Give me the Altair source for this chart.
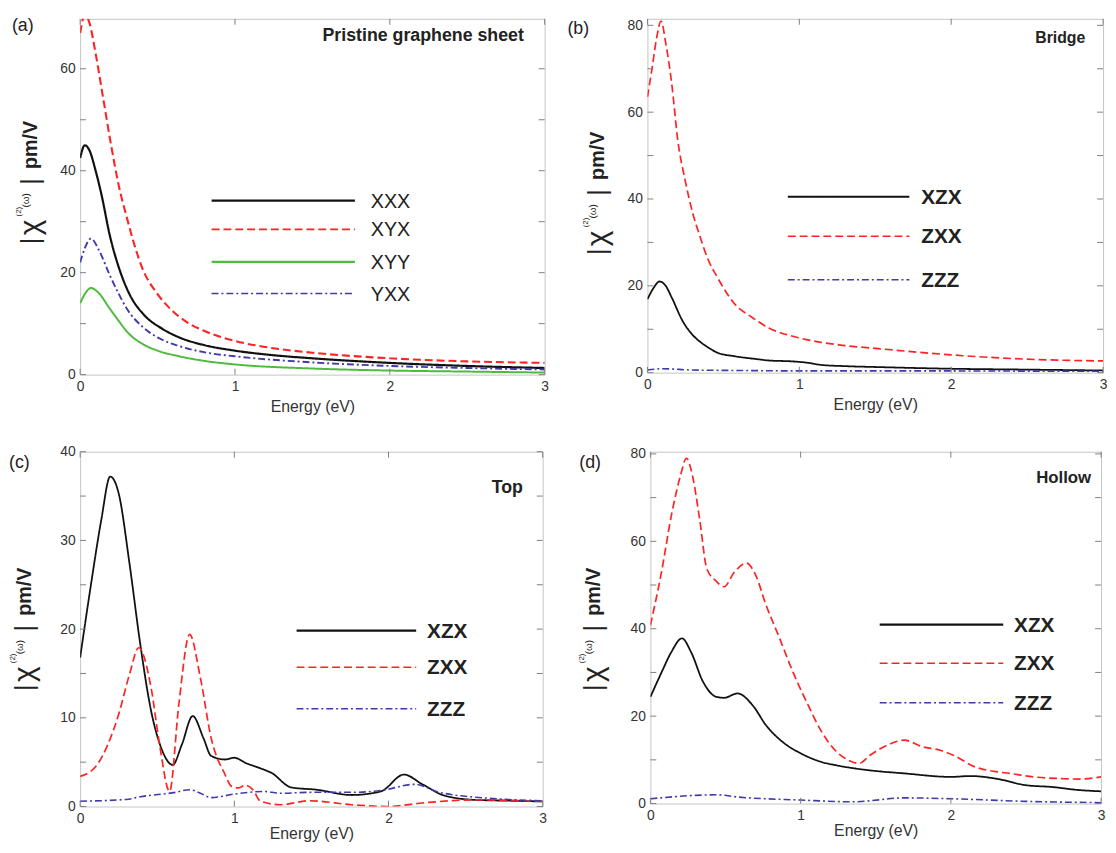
import altair as alt
import pandas as pd

FONT = "Liberation Sans"

# ---------------- data ----------------
# (a) Pristine graphene sheet
A_XXX_X = [0, 0.03, 0.06, 0.1, 0.14, 0.19, 0.25, 0.32, 0.41, 0.53, 0.64, 0.8, 1.0, 1.25, 1.5, 2.0, 2.5, 3.0]
A_XXX_Y = [42.5, 45, 44, 40, 35, 27.5, 21, 15.7, 11.8, 9.0, 7.3, 5.8, 4.7, 3.8, 3.2, 2.3, 1.7, 1.3]
A_XYX_X = [0, 0.03, 0.06, 0.1, 0.15, 0.2, 0.25, 0.3, 0.35, 0.4, 0.5, 0.6, 0.7, 0.8, 1.0, 1.2, 1.5, 2.0, 2.5, 3.0]
A_XYX_Y = [67, 70.5, 69, 63, 54, 45, 37, 31, 25.5, 21, 15.8, 12.4, 10.1, 8.6, 6.6, 5.4, 4.3, 3.2, 2.6, 2.3]
A_XYY_X = [0, 0.03, 0.07, 0.12, 0.19, 0.25, 0.3, 0.41, 0.5, 0.64, 0.8, 1.0, 1.5, 2.0, 2.5, 3.0]
A_XYY_Y = [14, 15.8, 17, 16, 13, 10.5, 8.5, 5.9, 4.7, 3.6, 2.7, 2.0, 1.2, 0.8, 0.6, 0.4]
A_YXX_X = [0, 0.03, 0.07, 0.12, 0.19, 0.25, 0.3, 0.41, 0.5, 0.64, 0.8, 1.0, 1.5, 2.0, 2.5, 3.0]
A_YXX_Y = [22, 24.8, 26.7, 24.5, 19.6, 15.8, 13, 9.2, 7.3, 5.6, 4.4, 3.6, 2.4, 1.7, 1.3, 1.0]

# (b) Bridge
B_XZX_X = [0, 0.04, 0.08, 0.12, 0.16, 0.23, 0.3, 0.34, 0.4, 0.46, 0.57, 0.7, 0.8, 0.95, 1.05, 1.14, 1.3, 1.5, 2.0, 2.5, 3.0]
B_XZX_Y = [16.9, 19.5, 21, 20, 17.3, 12, 8.6, 7.3, 5.8, 4.6, 3.8, 3.2, 2.8, 2.6, 2.3, 1.8, 1.5, 1.3, 0.9, 0.7, 0.5]
B_ZXX_X = [0, 0.03, 0.06, 0.09, 0.12, 0.16, 0.2, 0.25, 0.3, 0.34, 0.4, 0.46, 0.57, 0.69, 0.8, 1.0, 1.26, 1.5, 1.72, 2.0, 2.5, 3.0]
B_ZXX_Y = [63.5, 70, 77, 81, 76, 66.5, 53.5, 44, 36.5, 32, 26, 22, 16, 12.7, 10.3, 8.0, 6.4, 5.6, 4.9, 4.1, 3.1, 2.7]
B_ZZZ_X = [0, 0.1, 0.3, 0.6, 1.0, 1.5, 2.0, 2.5, 3.0]
B_ZZZ_Y = [0.6, 0.9, 0.6, 0.5, 0.4, 0.4, 0.4, 0.35, 0.3]

# (c) Top
C_XZX_X = [0, 0.07, 0.137, 0.195, 0.25, 0.32, 0.39, 0.46, 0.526, 0.6, 0.66, 0.73, 0.8, 0.85, 0.94, 1.0,
           1.075, 1.17, 1.24, 1.37, 1.53, 1.76, 1.95, 2.1, 2.22, 2.36, 2.56, 2.8, 3.0]
C_XZX_Y = [16.8, 25, 32.3, 37.2, 35.3, 27.4, 18.3, 10.8, 6.6, 4.7, 7, 10.2, 7.7, 5.7, 5.3, 5.5,
           4.9, 4.3, 3.8, 2.15, 1.9, 1.3, 1.7, 3.6, 2.5, 1.25, 0.75, 0.65, 0.57]
C_ZXX_X = [0, 0.11, 0.18, 0.25, 0.32, 0.38, 0.46, 0.515, 0.58, 0.64, 0.71, 0.78, 0.85, 0.94, 0.98,
           1.03, 1.07, 1.12, 1.17, 1.3, 1.49, 1.76, 1.99, 2.22, 2.56, 3.0]
C_ZXX_Y = [3.4, 4.7, 7, 10.4, 14.9, 17.9, 13.4, 7, 1.7, 11.5, 19.4, 14.5, 7.7, 3.6, 2.3,
           2.1, 2.4, 1.9, 0.6, 0.2, 0.65, 0.2, 0.0, 0.4, 0.75, 0.57]
C_ZZZ_X = [0, 0.3, 0.39, 0.62, 0.71, 0.78, 0.85, 1.0, 1.19, 1.3, 1.5, 1.76, 1.95, 2.17, 2.33, 2.68, 3.0]
C_ZZZ_Y = [0.6, 0.8, 1.1, 1.6, 1.9, 1.5, 1.0, 1.4, 1.7, 1.5, 1.6, 1.6, 1.8, 2.5, 1.6, 0.9, 0.65]

# (d) Hollow
D_ZXX_X = [0, 0.074, 0.14, 0.2, 0.24, 0.28, 0.33, 0.375, 0.44, 0.49, 0.56, 0.64, 0.7, 0.77, 0.86, 0.95,
           1.05, 1.14, 1.23, 1.32, 1.39, 1.46, 1.58, 1.69, 1.81, 1.93, 2.02, 2.16, 2.3, 2.39, 2.55, 2.74, 2.85, 3.0]
D_ZXX_Y = [40.8, 53, 66, 75, 79, 75, 64.5, 53.8, 50.8, 49.6, 53, 55, 52.3, 45.4, 37.8, 30,
           22.5, 16.4, 12.2, 9.9, 9.2, 11, 13.4, 14.5, 13, 12.2, 11, 8.4, 7.3, 6.9, 6.1, 5.7, 5.6, 6.1]
D_XZX_X = [0, 0.074, 0.14, 0.21, 0.27, 0.35, 0.44, 0.49, 0.58, 0.68, 0.77, 0.88, 1.0, 1.14, 1.23,
           1.46, 1.69, 2.0, 2.13, 2.3, 2.5, 2.67, 2.85, 3.0]
D_XZX_Y = [24.4, 30, 34.7, 37.8, 34.7, 27.9, 24.4, 24.2, 25.2, 22.5, 17.9, 14.1, 11.5, 9.5, 8.8,
           7.6, 6.9, 6.1, 6.3, 5.7, 4.2, 3.8, 3.1, 2.8]
D_ZZZ_X = [0, 0.44, 0.58, 1.0, 1.35, 1.69, 2.0, 2.5, 3.0]
D_ZZZ_Y = [1.1, 2.0, 1.5, 0.8, 0.4, 1.3, 1.1, 0.5, 0.2]

# axis ticks
X_TICKS = [0, 1, 2, 3]
Y_TICKS_A = [0, 10, 20, 30, 40, 50, 60]
Y_TICKS_B = [0, 10, 20, 30, 40, 50, 60, 70, 80]
Y_TICKS_C = [0, 5, 10, 15, 20, 25, 30, 35, 40]
Y_TICKS_D = [0, 10, 20, 30, 40, 50, 60, 70, 80]

# ---------------- styles ----------------
BLACK, RED, GREEN, BLUE = "#111111", "#ff2222", "#4dbb3c", "#3f3aae"
TICK = "#808080"
SOLID, DASH, DASHDOT = [1, 0], [8, 4], [7, 3, 2, 3]
STYLE = {
    "XXX": (BLACK, SOLID, 2.2), "XYX": (RED, DASH, 1.6), "XYY": (GREEN, SOLID, 2.2), "YXX": (BLUE, DASHDOT, 1.6),
    "XZX": (BLACK, SOLID, 2.2), "ZXX": (RED, DASH, 1.6), "ZZZ": (BLUE, DASHDOT, 1.6),
}
ALL_NAMES = list(STYLE.keys())


def line_df(series):
    rows = []
    for name, xs, ys in series:
        for x, y in zip(xs, ys):
            rows.append({"energy": x, "chi": y, "series": name})
    return pd.DataFrame(rows)


def txt(text, x, y, size, weight="normal", align="left", angle=0, color="#222222"):
    return alt.Chart(pd.DataFrame({"t": [text]})).mark_text(
        align=align, baseline="middle", font=FONT, fontSize=size, fontWeight=weight,
        angle=angle, color=color
    ).encode(x=alt.value(x), y=alt.value(y), text="t:N")


def leg_line(name, x1, x2, y):
    c, d, w = STYLE[name]
    return alt.Chart(pd.DataFrame({"s": [name]})).mark_rule(
        color=c, strokeDash=d, strokeWidth=w
    ).encode(x=alt.value(x1), x2=alt.value(x2), y=alt.value(y))


def ytitle(cx, cy):
    total = 128
    y0 = cy + total / 2
    parts = [("|", 0, 0, 26, "normal"), ("χ", 9, 0, 30, "normal"), ("(2)", 28, -12, 8, "normal"),
             ("(ω)", 37, -5, 10, "normal"), ("|", 60, 0, 26, "normal"), ("pm/V", 76, 0, 20, "bold")]
    return [txt(t, cx + dx, y0 - off, size, weight, angle=270, color="#222222")
            for t, off, dx, size, weight in parts]


def panel(P):
    series = P["series"]
    df = line_df(series)
    names = [s[0] for s in series]
    W, H = P["w"], P["h"]
    step = P["lab_step"]
    xs = alt.Scale(domain=[0, 3], nice=False, zero=False)
    ys = alt.Scale(domain=[0, P["ymax"]], nice=False, zero=False)
    x_axis = alt.Axis(
        orient="bottom", values=X_TICKS, format="d", ticks=False, domain=False, grid=False,
        labelFlush=False, labelOverlap=False, minExtent=0,
        labelFont=FONT, labelFontSize=14, labelColor="#333333", labelPadding=5,
        title="Energy (eV)", titleFont=FONT, titleFontSize=16, titleFontWeight="normal",
        titleColor="#333333", titlePadding=P["xtitle_pad"])
    y_axis = alt.Axis(
        orient="left", values=P["yticks"], labelExpr=f"datum.value % {step} == 0 ? datum.label : ''",
        ticks=False, domain=False, grid=False, labelOverlap=False, minExtent=0,
        labelFont=FONT, labelFontSize=14, labelColor="#333333", labelPadding=5, title=None)

    lines = alt.Chart(df).mark_line(interpolate="monotone", clip=True).encode(
        x=alt.X("energy:Q", scale=xs, axis=x_axis),
        y=alt.Y("chi:Q", scale=ys, axis=y_axis),
        color=alt.Color("series:N", scale=alt.Scale(domain=ALL_NAMES, range=[STYLE[n][0] for n in ALL_NAMES]), legend=None),
        strokeDash=alt.StrokeDash("series:N", scale=alt.Scale(domain=ALL_NAMES, range=[STYLE[n][1] for n in ALL_NAMES]), legend=None),
        strokeWidth=alt.StrokeWidth("series:N", scale=alt.Scale(domain=ALL_NAMES, range=[STYLE[n][2] for n in ALL_NAMES]), legend=None),
        detail="series:N",
    )
    # inward ticks on all four sides of the box, placed through the same scales
    ydf = pd.DataFrame({"chi": P["yticks"]})
    xdf = pd.DataFrame({"energy": X_TICKS})
    n = 6
    ticks = []
    for x1, x2 in [(0, n), (W - n, W)]:
        ticks.append(alt.Chart(ydf).mark_rule(color=TICK, strokeWidth=1).encode(
            y=alt.Y("chi:Q", scale=ys, axis=y_axis), x=alt.value(x1), x2=alt.value(x2)))
    for y1, y2 in [(H - n, H), (0, n)]:
        ticks.append(alt.Chart(xdf).mark_rule(color=TICK, strokeWidth=1).encode(
            x=alt.X("energy:Q", scale=xs, axis=x_axis), y=alt.value(y1), y2=alt.value(y2)))

    layers = [lines] + ticks
    tx, ty = P["tag_pos"]
    layers.append(txt(P["tag"], tx, ty, 18, color="#222222"))
    hx, hy = P["title_pos"]
    layers.append(txt(P["title"], hx, hy, P["title_size"], weight="bold", align="right", color="#222222"))
    lx1, lx2, ltx = P["leg_x"]
    for name, ly in zip(names, P["leg_y"]):
        layers.append(leg_line(name, lx1, lx2, ly))
        layers.append(txt(name, ltx, ly + 1, P["leg_size"], weight=P["leg_weight"], color="#222222"))
    cx, cy = P["ytitle"]
    layers.extend(ytitle(cx, cy))
    return alt.layer(*layers).properties(width=W, height=H)


PA = dict(series=[("XXX", A_XXX_X, A_XXX_Y), ("XYX", A_XYX_X, A_XYX_Y), ("XYY", A_XYY_X, A_XYY_Y), ("YXX", A_YXX_X, A_YXX_Y)],
          ymax=69.8, yticks=Y_TICKS_A, lab_step=20, w=470, h=360, xtitle_pad=5,
          tag="(a)", tag_pos=(-69, 7), title="Pristine graphene sheet", title_pos=(449, 17), title_size=18,
          leg_x=(133, 278, 294), leg_y=[184, 213, 246, 278], leg_size=20, leg_weight="normal",
          ytitle=(-50, 164))
PB = dict(series=[("XZX", B_XZX_X, B_XZX_Y), ("ZXX", B_ZXX_X, B_ZXX_Y), ("ZZZ", B_ZZZ_X, B_ZZZ_Y)],
          ymax=81.5, yticks=Y_TICKS_B, lab_step=20, w=461, h=358, xtitle_pad=5,
          tag="(b)", tag_pos=(-81, 10), title="Bridge", title_pos=(443, 19), title_size=16,
          leg_x=(142, 265, 277), leg_y=[180, 220, 264], leg_size=21, leg_weight="bold",
          ytitle=(-50, 175))
PC = dict(series=[("XZX", C_XZX_X, C_XZX_Y), ("ZXX", C_ZXX_X, C_ZXX_Y), ("ZZZ", C_ZZZ_X, C_ZZZ_Y)],
          ymax=40, yticks=Y_TICKS_C, lab_step=10, w=468, h=359, xtitle_pad=0,
          tag="(c)", tag_pos=(-72, 11), title="Top", title_pos=(448, 37), title_size=18,
          leg_x=(219, 340, 351), leg_y=[181, 218, 260], leg_size=21, leg_weight="bold",
          ytitle=(-56, 178))
PD = dict(series=[("XZX", D_XZX_X, D_XZX_Y), ("ZXX", D_ZXX_X, D_ZXX_Y), ("ZZZ", D_ZZZ_X, D_ZZZ_Y)],
          ymax=80.5, yticks=Y_TICKS_D, lab_step=20, w=456, h=356, xtitle_pad=0,
          tag="(d)", tag_pos=(-72, 11), title="Hollow", title_pos=(446, 27), title_size=17,
          leg_x=(232, 357, 368), leg_y=[175, 214, 254], leg_size=21, leg_weight="bold",
          ytitle=(-57, 178))

row1 = alt.hconcat(panel(PA), panel(PB), spacing=17)
row2 = alt.hconcat(panel(PC), panel(PD), spacing=30)

chart = alt.vconcat(row1, row2, spacing=29).properties(
    padding={"left": 0, "top": 3, "right": 0, "bottom": 0}, background="white"
).configure_view(stroke="#c4c4c4", strokeWidth=1)

chart.save("out.html", embed_options={"renderer": "svg", "actions": False})
